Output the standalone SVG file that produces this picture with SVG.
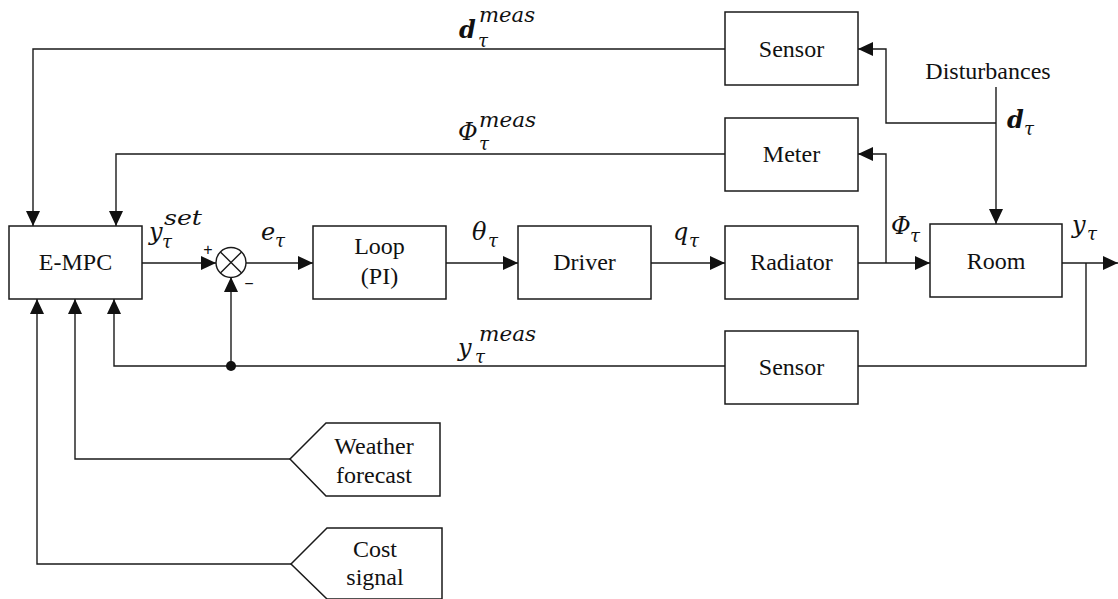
<svg xmlns="http://www.w3.org/2000/svg" width="1118" height="599" viewBox="0 0 1118 599">
<style>
.box{fill:#fff;stroke:#1a1a1a;stroke-width:1.5}
.ln{fill:none;stroke:#1a1a1a;stroke-width:1.4}
.lbl{font-family:"Liberation Serif",serif;font-size:24px;fill:#111;text-anchor:middle}
.m{font-family:"DejaVu Serif",serif;font-style:italic;fill:#111;font-size:24px}
.b{font-weight:bold}
.sup{font-size:20px;font-weight:normal}
.sub{font-size:18px;font-weight:normal}
.sign{font-family:"Liberation Sans",sans-serif;font-size:16px;fill:#111;text-anchor:middle}
</style>
<defs>
<marker id="ah" markerUnits="userSpaceOnUse" markerWidth="15" markerHeight="14" refX="15" refY="7" orient="auto">
<path d="M0,0 L15,7 L0,14 Z" fill="#111"/>
</marker>
</defs>

<g id="connectors">
<path class="ln" d="M142,263 H216" marker-end="url(#ah)"/>
<path class="ln" d="M246,263 H313" marker-end="url(#ah)"/>
<path class="ln" d="M446,263 H518" marker-end="url(#ah)"/>
<path class="ln" d="M651,263 H725" marker-end="url(#ah)"/>
<path class="ln" d="M858,263 H930" marker-end="url(#ah)"/>
<path class="ln" d="M886,263 V154 H858" marker-end="url(#ah)"/>
<path class="ln" d="M996,87 V224" marker-end="url(#ah)"/>
<path class="ln" d="M996,123 H886 V49 H858" marker-end="url(#ah)"/>
<path class="ln" d="M1062,263 H1118" marker-end="url(#ah)"/>
<path class="ln" d="M1086,263 V366 H858"/>
<path class="ln" d="M725,366 H114 V299" marker-end="url(#ah)"/>
<path class="ln" d="M231,366 V277" marker-end="url(#ah)"/>
<circle cx="231" cy="366" r="5" fill="#111"/>
<path class="ln" d="M725,49 H33 V226" marker-end="url(#ah)"/>
<path class="ln" d="M725,154 H116 V226" marker-end="url(#ah)"/>
<path class="ln" d="M290,459 H75 V299" marker-end="url(#ah)"/>
<path class="ln" d="M291,564 H37 V299" marker-end="url(#ah)"/>
</g>

<g id="empc">
<rect class="box" x="9" y="226" width="133" height="73"/>
<text class="lbl" x="75.5" y="270">E-MPC</text>
</g>

<g id="sum">
<circle cx="231" cy="262.5" r="15" fill="#fff" stroke="#1a1a1a" stroke-width="1.4"/>
<path class="ln" d="M220.4,251.9 L241.6,273.1 M241.6,251.9 L220.4,273.1"/>
<text class="sign" x="208" y="255">+</text>
<text class="sign" x="249" y="289">−</text>
</g>

<g id="loop">
<rect class="box" x="313" y="226" width="133" height="73"/>
<text class="lbl" x="379.5" y="254">Loop</text>
<text class="lbl" x="379.5" y="284">(PI)</text>
</g>

<g id="driver">
<rect class="box" x="518" y="226" width="133" height="73"/>
<text class="lbl" x="584.5" y="270">Driver</text>
</g>

<g id="radiator">
<rect class="box" x="725" y="226" width="133" height="73"/>
<text class="lbl" x="791.5" y="270">Radiator</text>
</g>

<g id="room">
<rect class="box" x="930" y="224" width="132" height="73"/>
<text class="lbl" x="996" y="269">Room</text>
</g>

<g id="sensor-top">
<rect class="box" x="725" y="12" width="133" height="73"/>
<text class="lbl" x="791.5" y="57">Sensor</text>
</g>

<g id="meter">
<rect class="box" x="725" y="118" width="133" height="73"/>
<text class="lbl" x="791.5" y="162">Meter</text>
</g>

<g id="sensor-bottom">
<rect class="box" x="725" y="331" width="133" height="73"/>
<text class="lbl" x="791.5" y="375">Sensor</text>
</g>

<g id="weather">
<path class="box" d="M290,459 L326,423 H440 V496 H326 Z"/>
<text class="lbl" x="374" y="454">Weather</text>
<text class="lbl" x="374" y="483">forecast</text>
</g>

<g id="cost">
<path class="box" d="M291,564 L327,528 H442 V599 H327 Z"/>
<text class="lbl" x="375" y="557">Cost</text>
<text class="lbl" x="375" y="585">signal</text>
</g>

<g id="disturbances">
<text class="lbl" x="988" y="79">Disturbances</text>
</g>

<g id="labels">
<text class="m b" x="459" y="38">d<tspan class="sup" x="479" y="22" textLength="56" lengthAdjust="spacingAndGlyphs">meas</tspan><tspan class="sub" x="478" y="47">τ</tspan></text>

<text class="m" x="458" y="140">Φ<tspan class="sup" x="479" y="127" textLength="57" lengthAdjust="spacingAndGlyphs">meas</tspan><tspan class="sub" x="479" y="150">τ</tspan></text>

<text class="m" x="149" y="240">y<tspan class="sup" x="164" y="225" textLength="38" lengthAdjust="spacingAndGlyphs">set</tspan><tspan class="sub" x="162" y="248">τ</tspan></text>

<text class="m" x="261" y="240">e<tspan class="sub" x="275" y="247">τ</tspan></text>

<text class="m" x="472" y="240">θ<tspan class="sub" x="488" y="247">τ</tspan></text>

<text class="m" x="673" y="240">q<tspan class="sub" x="689" y="247">τ</tspan></text>

<text class="m" x="891" y="234">Φ<tspan class="sub" x="910" y="242">τ</tspan></text>

<text class="m" x="1072" y="233">y<tspan class="sub" x="1087" y="240">τ</tspan></text>

<text class="m b" x="1007" y="128">d<tspan class="sub" x="1024" y="135">τ</tspan></text>

<text class="m" x="458" y="356">y<tspan class="sup" x="479" y="341" textLength="57" lengthAdjust="spacingAndGlyphs">meas</tspan><tspan class="sub" x="475" y="363">τ</tspan></text>
</g>
</svg>
